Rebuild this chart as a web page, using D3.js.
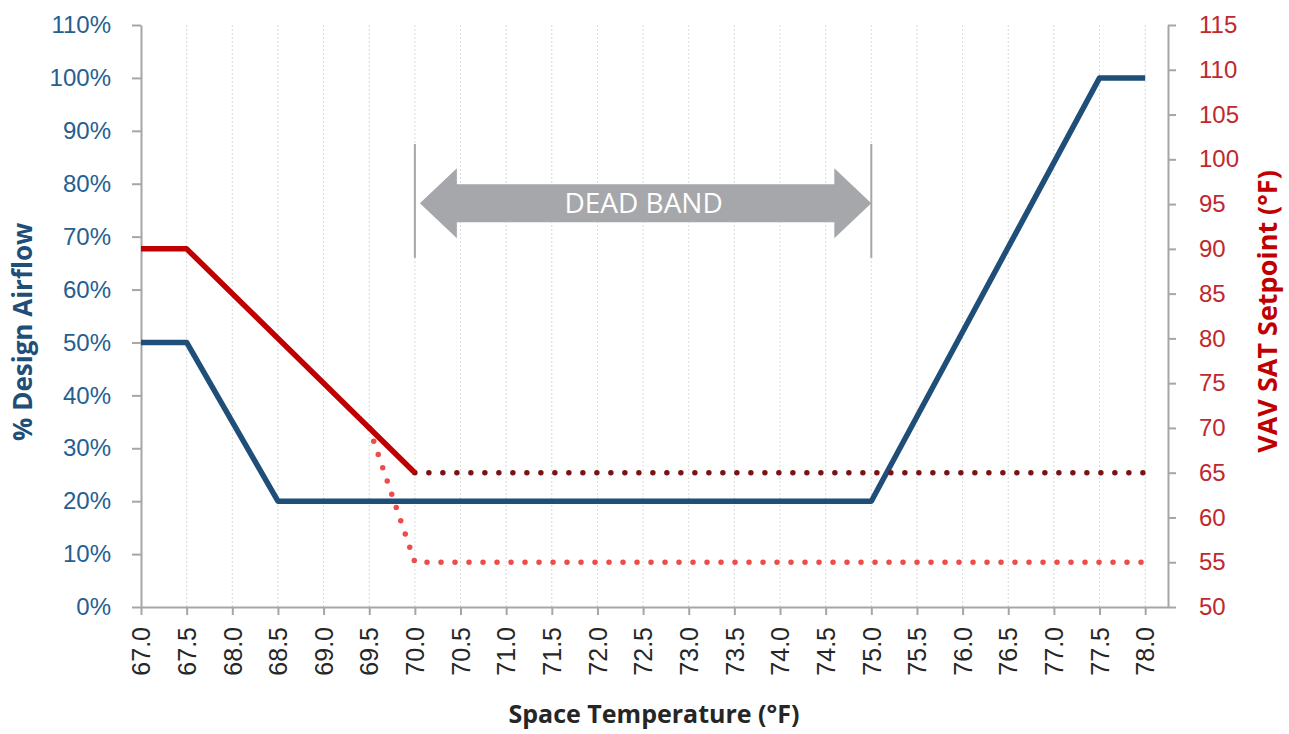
<!DOCTYPE html>
<html lang="en">
<head>
  <meta charset="UTF-8" />
  <title>VAV Airflow and SAT Setpoint vs Space Temperature</title>
  <script src="https://d3js.org/d3.v7.min.js"></script>
  <style>
    body {
      margin: 0;
      background: #fff;
    }
    svg {
      display: block;
      font-family: "Open Sans", sans-serif;
    }
    .grid line {
      stroke: #d9d9d9;
      stroke-width: 1px;
      stroke-dasharray: 2 2;
    }
    .axis path, .axis line {
      stroke: #a6a6a6;
      stroke-width: 2px;
    }
  </style>
</head>
<body>
  <svg width="1289" height="734"></svg>

  <script>
    // x axis categories (space temperature, °F)
    const tempTicks = [67.0, 67.5, 68.0, 68.5, 69.0, 69.5, 70.0, 70.5, 71.0, 71.5, 72.0,
                       72.5, 73.0, 73.5, 74.0, 74.5, 75.0, 75.5, 76.0, 76.5, 77.0, 77.5, 78.0];
    const airflowTicks = [0, 10, 20, 30, 40, 50, 60, 70, 80, 90, 100, 110];
    const satTicks = [50, 55, 60, 65, 70, 75, 80, 85, 90, 95, 100, 105, 110, 115];

    // % design airflow (left axis)
    const airflowTemps = [67.0, 67.5, 68.5, 75.0, 77.5, 78.0];
    const airflowPct   = [50, 50, 20, 20, 100, 100];

    // heating SAT setpoint, solid (right axis)
    const heatSatTemps  = [67.0, 67.5, 70.0];
    const heatSatValues = [90, 90, 65];

    // dotted SAT setpoints (right axis)
    const upperSatTemps  = [70.0, 78.0];
    const upperSatValues = [65, 65];
    const lowerSatTemps  = [69.5, 70.0, 78.0];
    const lowerSatValues = [70, 55, 55];

    // dead band annotation
    const deadBand = [70.0, 75.0];
    const deadBandLabel = "DEAD BAND";

    const svg = d3.select("svg");

    const x = d3.scaleLinear().domain([67, 78.25]).range([141, 1168]);
    const yL = d3.scaleLinear().domain([0, 110]).range([607, 25]);
    const yR = d3.scaleLinear().domain([50, 115]).range([607, 25]);

    // vertical dotted gridlines
    svg.append("g")
      .attr("class", "grid")
      .selectAll("line")
      .data(tempTicks.slice(1))
      .enter()
      .append("line")
      .attr("x1", d => x(d)).attr("x2", d => x(d))
      .attr("y1", yL(110)).attr("y2", yL(0));

    // axes
    const xAxis = svg.append("g")
      .attr("class", "axis")
      .attr("transform", `translate(0,${yL(0)})`)
      .call(d3.axisBottom(x).tickValues(tempTicks).tickFormat(d => d.toFixed(1))
        .tickSizeInner(8).tickSizeOuter(0).tickPadding(10));
    xAxis.selectAll("text")
      .attr("transform", "rotate(-90)")
      .attr("text-anchor", "end")
      .attr("x", -20)
      .attr("y", 0)
      .attr("dy", "0.35em")
      .attr("fill", "#262626")
      .style("font-size", "25px");

    const leftAxis = svg.append("g")
      .attr("class", "axis")
      .attr("transform", `translate(${x(67)},0)`)
      .call(d3.axisLeft(yL).tickValues(airflowTicks).tickFormat(d => d + "%")
        .tickSizeInner(9).tickSizeOuter(0).tickPadding(21));
    leftAxis.selectAll("text")
      .attr("fill", "#255e91")
      .style("font-size", "24px");

    const rightAxis = svg.append("g")
      .attr("class", "axis")
      .attr("transform", `translate(${x(78.25)},0)`)
      .call(d3.axisRight(yR).tickValues(satTicks)
        .tickSizeInner(8).tickSizeOuter(0).tickPadding(23));
    rightAxis.selectAll("text")
      .attr("fill", "#c0282d")
      .style("font-size", "24px");

    // axis titles
    svg.append("text")
      .attr("x", 654)
      .attr("y", 723)
      .attr("text-anchor", "middle")
      .attr("fill", "#262626")
      .style("font-size", "25px")
      .style("font-weight", "bold")
      .text("Space Temperature (°F)");

    svg.append("text")
      .attr("transform", `translate(32,${yL(52)}) rotate(-90)`)
      .attr("text-anchor", "middle")
      .attr("fill", "#1f4e79")
      .style("font-size", "26px")
      .style("font-weight", "bold")
      .text("% Design Airflow");

    svg.append("text")
      .attr("transform", `translate(1277,${yR(83)}) rotate(-90)`)
      .attr("text-anchor", "middle")
      .attr("fill", "#c00000")
      .style("font-size", "27px")
      .style("font-weight", "bold")
      .text("VAV SAT Setpoint (°F)");

    // dead band markers + double arrow
    const dbTop = yL(87.5), dbBottom = yL(66);
    svg.selectAll("line.db")
      .data(deadBand)
      .enter()
      .append("line")
      .attr("class", "db")
      .attr("x1", d => x(d)).attr("x2", d => x(d))
      .attr("y1", dbTop).attr("y2", dbBottom)
      .attr("stroke", "#a6a6a6")
      .attr("stroke-width", 2);

    const ax0 = x(deadBand[0]) + 5, ax1 = x(deadBand[1]);
    const ay = yL(76.3);
    const head = 37, headH = 35, shaftH = 19;
    const arrowPts = [
      [ax0, ay], [ax0 + head, ay - headH], [ax0 + head, ay - shaftH],
      [ax1 - head, ay - shaftH], [ax1 - head, ay - headH], [ax1, ay],
      [ax1 - head, ay + headH], [ax1 - head, ay + shaftH],
      [ax0 + head, ay + shaftH], [ax0 + head, ay + headH]
    ];
    svg.append("polygon")
      .attr("points", arrowPts.map(p => p.join(",")).join(" "))
      .attr("fill", "#a5a7aa");
    svg.append("text")
      .attr("x", (ax0 + ax1) / 2 - 2)
      .attr("y", ay)
      .attr("dy", "0.36em")
      .attr("text-anchor", "middle")
      .attr("fill", "#fff")
      .style("font-size", "28px")
      .text(deadBandLabel);

    // series
    const lineL = d3.line().x(d => x(d[0])).y(d => yL(d[1]));
    const lineR = d3.line().x(d => x(d[0])).y(d => yR(d[1]));

    svg.append("path")
      .datum(d3.zip(airflowTemps, airflowPct))
      .attr("d", lineL)
      .attr("fill", "none")
      .attr("stroke", "#1f4e79")
      .attr("stroke-width", 5.5)
      .attr("stroke-linejoin", "round");

    svg.append("path")
      .datum(d3.zip(lowerSatTemps, lowerSatValues))
      .attr("d", lineR)
      .attr("fill", "none")
      .attr("stroke", "#ee4b4b")
      .attr("stroke-width", 5.5)
      .attr("stroke-linecap", "round")
      .attr("stroke-dasharray", "0 14");

    svg.append("path")
      .datum(d3.zip(upperSatTemps, upperSatValues))
      .attr("d", lineR)
      .attr("fill", "none")
      .attr("stroke", "#7a1315")
      .attr("stroke-width", 5.5)
      .attr("stroke-linecap", "round")
      .attr("stroke-dasharray", "0 14");

    svg.append("path")
      .datum(d3.zip(heatSatTemps, heatSatValues))
      .attr("d", lineR)
      .attr("fill", "none")
      .attr("stroke", "#c00000")
      .attr("stroke-width", 5.5)
      .attr("stroke-linejoin", "round");
  </script>
</body>
</html>
